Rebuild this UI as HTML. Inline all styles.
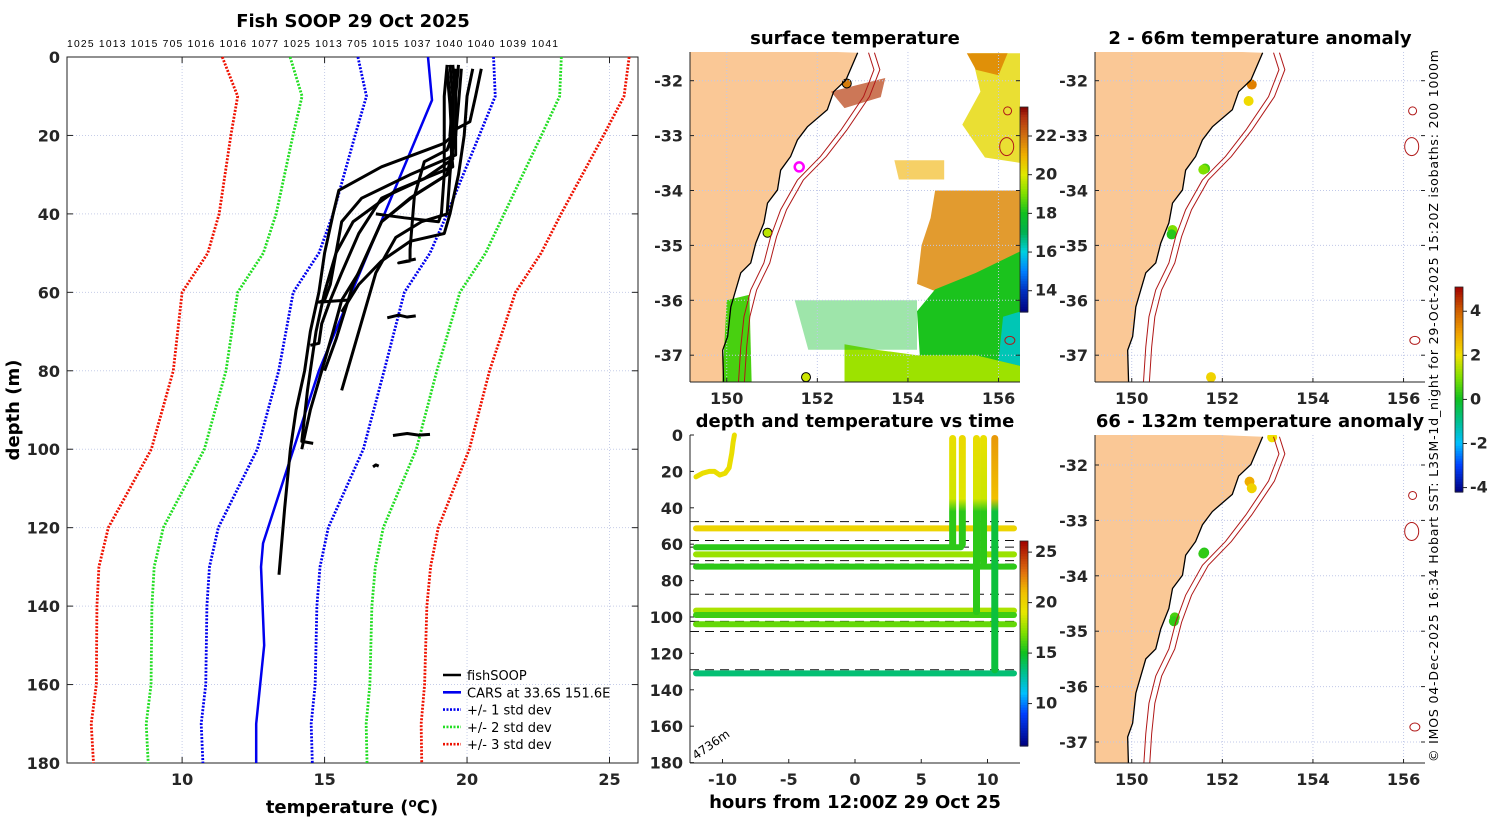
<!DOCTYPE html>
<html><head><meta charset="utf-8"><style>
html,body{margin:0;padding:0;background:#fff;}
svg{display:block;font-family:"DejaVu Sans","Liberation Sans",sans-serif;}
.tk{font-size:16px;font-weight:bold;fill:#262626;}
.ttl{font-size:18px;font-weight:bold;fill:#000;}
</style></head><body>
<svg id="fig" width="1500" height="820" viewBox="0 0 1500 820" xmlns="http://www.w3.org/2000/svg"></svg>
<script>
// ===== Profile panel data =====
const climDepths=[0,10,20,40,50,60,80,100,120,130,140,160,170,180];
const climMean=[18.55,18.73,18.25,17.3,16.75,15.85,15.24,14.5,13.2,12.9,12.8,12.75,12.6,12.65];
const climStd=[2.38,2.26,2.18,2.0,1.95,1.95,1.85,1.86,1.93,1.94,1.93,1.92,1.93,1.92];
const carsDepths=[0,11,80,124,130,150,170,180];
const carsTemps=[18.63,18.77,14.8,12.84,12.77,12.88,12.6,12.6];
const profTemps=[
 [20.5,20.3,20.1,19.55,19.3,18.5,18.15,18.0,18.0,17.6,18.2],
 [19.3,19.4,19.5,19.2,17.0,15.5,15.3,15.0,14.8,14.5,14.3,14.0,13.8,13.6,13.4],
 [19.5,19.6,19.6,18.0,16.3,15.6,15.4,15.0,14.7,14.4,14.2,14.6],
 [19.6,19.5,19.4,19.5,17.5,16.0,15.4,15.2,15.0,14.8,15.8],
 [19.3,19.4,19.5,18.5,17.0,16.2,15.6,15.2,14.9,14.8,14.5],
 [19.7,19.6,19.6,19.3,18.2,17.0,16.5,16.0,15.7,15.4,15.0],
 [19.4,19.5,19.5,19.4,19.3,18.4,17.5,16.8,16.4,16.0,15.6],
 [19.8,19.7,19.6,19.3,18.0,17.0,16.2,15.6,15.3,14.9,14.5,14.2],
 [19.3,19.2,19.2,19.2,19.1,19.0,17.8,16.8],
 [20.2,20.0,19.9,19.7,19.4,19.2,18.0,17.0,16.2,15.6],
 [17.2,17.6,17.9,18.2],
 [17.4,17.9,18.3,18.7],
 [16.7,16.8,16.9]
];
const profDepths=[
 [3,10,16.5,18.6,23.7,26.7,35.6,49,52,52.5,51.5],
 [3,10,20,22,28,34,40,50,60,70,80,90,100,115,132],
 [2,10,25,30,36,42,50,60,70,85,98,98.5],
 [3,10,20,28,34,42,50,58,62,62.5,62],
 [4,12,26,31,36,45,55,62,68,73,73.5],
 [2,10,20,30,35,42,50,58,65,72,80],
 [2,10,22,30,40,42,46,55,65,75,85],
 [3,12,20,30,36,42,55,62,70,80,90,100],
 [2,10,20,30,40,42,41,40],
 [3,10,20,30,40,45,47,52,58,65],
 [66.5,65.8,66.3,66],
 [96.5,96,96.4,96.2],
 [104.5,104,104.3]
];
const topLabels=["1025","1013","1015","705","1016","1016","1077","1025","1013","705","1015","1037","1040","1040","1039","1041"];
const tempTicks=[10,15,20,25];
const depthTicks=[0,20,40,60,80,100,120,140,160,180];

// ===== Time panel data =====
const barDepths=[51.3,61.7,65.6,72.3,96.5,98.9,104,131];
const barTemps=[20.0,15.5,17.5,15.5,17.8,15.8,16.5,13.5];
const barStart=[-12,-12,-12,-12,-12,-12,-12,-12];
const barEnd=[12,8,12,12,12,12,12,12];
const dropHours=[7.37,8.1,9.17,9.7,10.55];
const dropBottom=[62,62,99,72,131];
const dropSurfT=[19.5,19.8,19.6,19.4,22.0];
const dropDeepT=[15.5,15.5,15.5,15.5,14.5];
const dashDepths=[47.6,58,61.6,69,70.9,87.5,102.4,108,129];
const earlyHours=[-12,-11.5,-11,-10.6,-10.2,-9.8,-9.5,-9.3,-9.2,-9.1];
const earlyDepths=[23,21,20,20,22,21,18,10,4,0];
const hourTicks=[-10,-5,0,5,10];

// ===== Map data =====
const coastLon=[152.89,152.63,152.36,152.22,151.78,151.56,151.41,151.19,151.12,150.90,150.82,150.64,150.53,150.31,150.20,150.09,150.02,149.91,149.93];
const coastLat=[-31.49,-31.99,-32.20,-32.53,-32.84,-33.08,-33.38,-33.63,-33.99,-34.23,-34.59,-34.96,-35.32,-35.50,-35.81,-36.12,-36.66,-36.91,-37.48];
const isoLon=[153.13,153.25,153.02,152.52,152.07,151.56,151.19,150.97,150.82,150.53,150.38,150.31,150.26];
const isoLat=[-31.49,-31.8,-32.29,-32.9,-33.38,-33.81,-34.35,-34.84,-35.32,-35.81,-36.3,-36.85,-37.48];
const sstDotLon=[152.65,150.9,151.75];
const sstDotLat=[-32.05,-34.77,-37.4];
const sstDotT=[21.8,19.6,19.8];
const anomShallowLon=[152.65,152.58,151.62,151.58,150.9,150.88,151.75];
const anomShallowLat=[-32.07,-32.37,-33.6,-33.62,-34.72,-34.8,-37.4];
const anomShallowV=[3.5,2.1,0.5,1.0,1.0,0.2,2.2];
const anomDeepLon=[153.1,152.6,152.65,151.6,151.58,150.95,150.93];
const anomDeepLat=[-31.5,-32.3,-32.42,-33.58,-33.6,-34.75,-34.82];
const anomDeepV=[2.0,2.8,2.2,0.2,0.3,0.5,0.3];
const lonTicks=[150,152,154,156];
const latTicks=[-32,-33,-34,-35,-36,-37];

// ===== helpers =====
const NS="http://www.w3.org/2000/svg";
const svg=document.getElementById('fig');
function mk(tag,attrs,parent){const e=document.createElementNS(NS,tag);for(const k in attrs)e.setAttribute(k,attrs[k]);(parent||svg).appendChild(e);return e;}
function txt(x,y,s,attrs,parent){const e=mk('text',Object.assign({x:x,y:y},attrs||{}),parent);e.textContent=s;return e;}
function hex(c){return [parseInt(c.substr(1,2),16),parseInt(c.substr(3,2),16),parseInt(c.substr(5,2),16)];}
function cmap(stops){return function(v){if(v<=stops[0][0])return stops[0][1];if(v>=stops[stops.length-1][0])return stops[stops.length-1][1];
 for(let i=0;i<stops.length-1;i++){const a=stops[i],b=stops[i+1];if(v>=a[0]&&v<=b[0]){const t=(v-a[0])/(b[0]-a[0]);const A=hex(a[1]),B=hex(b[1]);
 return 'rgb('+A.map((q,j)=>Math.round(q+(B[j]-q)*t)).join(',')+')';}}};}
const sstC=cmap([[12.9,'#00007f'],[14,'#0030c0'],[15,'#0080ff'],[16,'#00d0e0'],[17,'#00b050'],[18,'#10c020'],[19,'#80e000'],[20,'#e0e800'],[21,'#f0b000'],[22,'#d07010'],[23,'#b03010'],[23.5,'#800000']]);
const tC=cmap([[5.8,'#00007f'],[9,'#0040ff'],[11,'#00c0ff'],[13,'#00c090'],[15,'#10c020'],[17,'#80e000'],[19,'#e8e800'],[21,'#f0c000'],[23,'#e07010'],[26.1,'#a00000']]);
const aC=cmap([[-4.2,'#00007f'],[-3,'#0040ff'],[-2,'#00c0ff'],[-1,'#00c090'],[0,'#10c020'],[1,'#80e000'],[2,'#f0e000'],[3,'#f0a000'],[4,'#d06000'],[5.1,'#a00000']]);
function colorbar(x,y,w,h,vmin,vmax,cm,ticks,name){
 const g=mk('g',{});
 const n=80;for(let i=0;i<n;i++){const v=vmax-(i+0.5)*(vmax-vmin)/n;mk('rect',{x:x,y:y+i*h/n,width:w,height:h/n+0.6,fill:cm(v)},g);}
 mk('rect',{x:x,y:y,width:w,height:h,fill:'none',stroke:'#222','stroke-width':0.8},g);
 ticks.forEach(t=>{const yy=y+(vmax-t)/(vmax-vmin)*h;mk('line',{x1:x+w,x2:x+w+4,y1:yy,y2:yy,stroke:'#222'},g);txt(x+w+7,yy+5,String(t),{class:'tk','font-size':'13'},g);});
}

// ===== Panel 1: profiles =====
(function(){
 const X0=67,X1=638,Y0=57,Y1=763,T0=5.96,T1=26.0,D1=180;
 const xs=t=>X0+(t-T0)/(T1-T0)*(X1-X0), ys=d=>Y0+d/D1*(Y1-Y0);
 const g=mk('g',{});
 tempTicks.forEach(t=>{const l=mk('line',{x1:xs(t),x2:xs(t),y1:Y0,y2:Y1,stroke:'#c6cde8','stroke-width':1,'stroke-dasharray':'1 2'},g);});
 depthTicks.forEach(d=>{mk('line',{x1:X0,x2:X1,y1:ys(d),y2:ys(d),stroke:'#c6cde8','stroke-width':1,'stroke-dasharray':'1 2'},g);});
 mk('rect',{x:X0,y:Y0,width:X1-X0,height:Y1-Y0,fill:'none',stroke:'#222','stroke-width':1},g);
 tempTicks.forEach(t=>{mk('line',{x1:xs(t),x2:xs(t),y1:Y1,y2:Y1-6,stroke:'#222'},g);mk('line',{x1:xs(t),x2:xs(t),y1:Y0,y2:Y0+6,stroke:'#222'},g);
  const e=txt(xs(t),Y1+22,String(t),{class:'tk','text-anchor':'middle'},g);});
 depthTicks.forEach(d=>{mk('line',{x1:X0,x2:X0+6,y1:ys(d),y2:ys(d),stroke:'#222'},g);mk('line',{x1:X1,x2:X1-6,y1:ys(d),y2:ys(d),stroke:'#222'},g);
  const e=txt(X0-7,ys(d)+6,String(d),{class:'tk','text-anchor':'end'},g);});
 const bandCol={1:'#0000ee',2:'#22dd22',3:'#ee1100'};
 [1,2,3].forEach(k=>{[-1,1].forEach(s=>{
  const pts=climDepths.map((d,i)=>xs(climMean[i]+s*k*climStd[i])+','+ys(d)).join(' ');
  const p=mk('polyline',{points:pts,fill:'none',stroke:bandCol[k],'stroke-width':2.8,'stroke-dasharray':'2 1.5'},g);
  });});
 const cars=mk('polyline',{points:carsDepths.map((d,i)=>xs(carsTemps[i])+','+ys(d)).join(' '),fill:'none',stroke:'#0000ee','stroke-width':2.5},g);
 
 profTemps.forEach((T,j)=>{const p=mk('polyline',{points:T.map((t,i)=>xs(t)+','+ys(profDepths[j][i])).join(' '),fill:'none',stroke:'#000','stroke-width':3,'stroke-linejoin':'round'},g);
  });
 const tg=mk('g',{});
 const tl=txt(X0,47,topLabels.join(' '),{'font-size':'10.3',fill:'#000','font-family':'"Liberation Sans",sans-serif'},tg);tl.setAttribute('textLength','491');
 const t1=txt(353,27,'Fish SOOP 29 Oct 2025',{class:'ttl','text-anchor':'middle'});
 const yl=txt(0,0,'depth (m)',{class:'ttl','text-anchor':'middle',transform:'translate(19,410) rotate(-90)','font-size':'17'});
 const xl=mk('text',{x:352,y:813,class:'ttl','text-anchor':'middle','font-size':'17'});
 xl.innerHTML='temperature (<tspan dy="-6" font-size="12">o</tspan><tspan dy="6">C)</tspan>';
 const lg=mk('g',{});
 const items=[['fishSOOP','#000',''],['CARS at 33.6S 151.6E','#0000ee',''],['+/- 1 std dev','#0000ee','2 1.5'],['+/- 2 std dev','#22dd22','2 1.5'],['+/- 3 std dev','#ee1100','2 1.5']];
 items.forEach((it,i)=>{const y=675+i*17.3;const e=mk('g',{},lg);
  mk('line',{x1:443,x2:461,y1:y,y2:y,stroke:it[1],'stroke-width':2.6,'stroke-dasharray':it[2]},e);txt(467,y+5,it[0],{'font-size':'13',fill:'#000'},e);});
})();

// ===== Map helper =====
function drawMap(name,title,X0,X1,Y0,Y1,latRef,ly,content){
 const lonMin=149.2,lonPx=45.3;const latPx=ly;
 const xs=lo=>X0+(lo-lonMin)*lonPx+0.5, ys=la=>latRef.y+(latRef.lat-la)*latPx;
 const g=mk('g',{});
 const cid='clip'+name;const cp=mk('clipPath',{id:cid},g);mk('rect',{x:X0,y:Y0,width:X1-X0,height:Y1-Y0},cp);
 const inner=mk('g',{'clip-path':'url(#'+cid+')'},g);
 const land=[X0+','+(Y0-5)].concat(coastLon.map((lo,i)=>xs(lo)+','+ys(coastLat[i]))).concat([xs(coastLon[coastLon.length-1])+','+(Y1+5),X0+','+(Y1+5)]);
 const lp=mk('polygon',{points:land.join(' '),fill:'#fac896'},inner);
 content(inner,xs,ys);
 lonTicks.forEach(lo=>mk('line',{x1:xs(lo),x2:xs(lo),y1:Y0,y2:Y1,stroke:'#c0c8e8','stroke-dasharray':'1 2'},inner));
 latTicks.forEach(la=>mk('line',{x1:X0,x2:X1,y1:ys(la),y2:ys(la),stroke:'#c0c8e8','stroke-dasharray':'1 2'},inner));
 mk('polyline',{points:coastLon.map((lo,i)=>xs(lo)+','+ys(coastLat[i])).join(' '),fill:'none',stroke:'#000','stroke-width':1.3},inner);
 [0,0.13].forEach(off=>{const p=mk('polyline',{points:isoLon.map((lo,i)=>xs(lo+off)+','+ys(isoLat[i])).join(' '),fill:'none',stroke:'#b01818','stroke-width':1},inner);});
 [[156.2,-32.55,4,4],[156.18,-33.2,7,9],[156.25,-36.73,5,4]].forEach(s=>mk('ellipse',{cx:xs(s[0]),cy:ys(s[1]),rx:s[2],ry:s[3],fill:'none',stroke:'#b01818','stroke-width':1},inner));
 mk('line',{x1:X0,x2:X1,y1:Y1,y2:Y1,stroke:'#222'},g);mk('line',{x1:X0,x2:X0,y1:Y0,y2:Y1,stroke:'#222'},g);
 lonTicks.forEach(lo=>{mk('line',{x1:xs(lo),x2:xs(lo),y1:Y1,y2:Y1-4,stroke:'#222'},g);const e=txt(xs(lo),Y1+22,String(lo),{class:'tk','text-anchor':'middle'},g);});
 latTicks.forEach(la=>{if(ys(la)<Y0||ys(la)>Y1)return;mk('line',{x1:X0,x2:X0+4,y1:ys(la),y2:ys(la),stroke:'#222'},g);mk('line',{x1:X1,x2:X1-4,y1:ys(la),y2:ys(la),stroke:'#222'},g);
  const e=txt(X0-7,ys(la)+6,String(la),{class:'tk','text-anchor':'end'},g);});
 const t=txt((X0+X1)/2,Y0-8,title,{class:'ttl','text-anchor':'middle'},g);
}
function poly(parent,xs,ys,pts,fill,nm){const p=mk('polygon',{points:pts.map(q=>xs(q[0])+','+ys(q[1])).join(' '),fill:fill},parent);return p;}

drawMap('sst-map','surface temperature',690,1020,52,382,{lat:-32,y:80.7},54.9,function(g,xs,ys){
 poly(g,xs,ys,[[155.4,-31.5],[156.5,-31.5],[156.5,-33.5],[155.7,-33.4],[155.2,-32.8],[155.6,-32.2]],sstC(20.3),'sst-ne-warm').setAttribute('opacity','0.8');
 poly(g,xs,ys,[[155.3,-31.5],[156.2,-31.5],[156.0,-31.9],[155.5,-31.8]],sstC(21.5),'sst-ne-orange');
 poly(g,xs,ys,[[154.6,-34.0],[156.5,-34.0],[156.5,-35.4],[155.8,-35.6],[154.8,-35.9],[154.2,-35.7],[154.3,-35.0],[154.5,-34.5]],sstC(21.6),'sst-orange-blob').setAttribute('opacity','0.85');
 poly(g,xs,ys,[[153.7,-33.45],[154.8,-33.45],[154.8,-33.8],[153.8,-33.8]],sstC(21.0),'sst-orange-patch').setAttribute('opacity','0.6');
 poly(g,xs,ys,[[152.3,-32.2],[153.5,-31.95],[153.4,-32.3],[152.6,-32.5]],sstC(22.8),'sst-red-patch').setAttribute('opacity','0.7');
 poly(g,xs,ys,[[156.5,-35.1],[156.5,-37.5],[154.3,-37.5],[154.2,-36.2],[154.6,-35.8],[155.5,-35.5]],sstC(18.1),'sst-green-region');
 poly(g,xs,ys,[[156.1,-36.3],[156.5,-36.2],[156.5,-37.2],[156.0,-37.1]],sstC(16.3),'sst-cyan-patch');
 poly(g,xs,ys,[[152.6,-36.8],[153.3,-36.9],[154.2,-37.0],[155.5,-37.0],[156.5,-37.2],[156.5,-37.5],[152.6,-37.5]],sstC(19.3),'sst-south-band');
 poly(g,xs,ys,[[151.5,-36.0],[154.2,-36.0],[154.2,-36.9],[151.8,-36.9]],sstC(17.8),'sst-scattered-green').setAttribute('opacity','0.4');
 poly(g,xs,ys,[[150.0,-36.0],[150.5,-35.9],[150.55,-37.5],[149.9,-37.5]],sstC(18.5),'sst-coastal-strip');
 sstDotLon.forEach((lo,i)=>{const c=mk('circle',{cx:xs(lo),cy:ys(sstDotLat[i]),r:4.5,fill:sstC(sstDotT[i]),stroke:'#000'},g);});
 const m=mk('circle',{cx:xs(151.6),cy:ys(-33.57),r:4.5,fill:'none',stroke:'#ff00ff','stroke-width':2.5},g);
});
colorbar(1020,107,8,205,12.9,23.5,sstC,[22,20,18,16,14],'sst-colorbar');

drawMap('shallow-anomaly-map','2 - 66m temperature anomaly',1095,1425,52,382,{lat:-32,y:80.7},54.9,function(g,xs,ys){
 anomShallowLon.forEach((lo,i)=>{const c=mk('circle',{cx:xs(lo),cy:ys(anomShallowLat[i]),r:5,fill:aC(anomShallowV[i])},g);});
});
drawMap('deep-anomaly-map','66 - 132m temperature anomaly',1095,1425,435,763,{lat:-32,y:465},55.4,function(g,xs,ys){
 anomDeepLon.forEach((lo,i)=>{const c=mk('circle',{cx:xs(lo),cy:ys(anomDeepLat[i]),r:5,fill:aC(anomDeepV[i])},g);});
});
colorbar(1455,287,8,205,-4.2,5.1,aC,[4,2,0,-2,-4],'anomaly-colorbar');

(function(){
 const X0=690,X1=1020,Y0=435,Y1=763;
 const xs=h=>855+h*13.25, ys=d=>Y0+d*1.82;
 const g=mk('g',{});
 dashDepths.forEach(d=>{const l=mk('line',{x1:X0,x2:X1,y1:ys(d),y2:ys(d),stroke:'#111','stroke-width':1,'stroke-dasharray':'9 6'},g);});
 barDepths.forEach((d,i)=>{const l=mk('line',{x1:xs(barStart[i]),x2:xs(barEnd[i]),y1:ys(d),y2:ys(d),stroke:tC(barTemps[i]),'stroke-width':6,'stroke-linecap':'round'},g);});
 dropHours.forEach((h,i)=>{const id='gd'+i;const lg=mk('linearGradient',{id:id,x1:0,y1:0,x2:0,y2:1},g);
  mk('stop',{offset:'0',"stop-color":tC(dropSurfT[i])},lg);mk('stop',{offset:String(Math.min(0.9,35/dropBottom[i])),"stop-color":tC(dropSurfT[i]-1)},lg);mk('stop',{offset:String(Math.min(0.95,42/dropBottom[i])),"stop-color":tC(dropDeepT[i])},lg);mk('stop',{offset:'1',"stop-color":tC(dropDeepT[i])},lg);
  const r=mk('rect',{x:xs(h)-3.5,y:ys(0),width:7,height:ys(dropBottom[i])-ys(0),rx:3.5,fill:'url(#'+id+')'},g);});
 const e=mk('polyline',{points:earlyHours.map((h,i)=>xs(h)+','+ys(earlyDepths[i])).join(' '),fill:'none',stroke:tC(19.5),'stroke-width':5,'stroke-linecap':'round','stroke-linejoin':'round'},g);
 mk('line',{x1:X0,x2:X1,y1:Y1,y2:Y1,stroke:'#222'},g);mk('line',{x1:X0,x2:X0,y1:Y0,y2:Y1,stroke:'#222'},g);
 hourTicks.forEach(h=>{mk('line',{x1:xs(h),x2:xs(h),y1:Y1,y2:Y1-4,stroke:'#222'},g);const t=txt(xs(h),Y1+22,String(h),{class:'tk','text-anchor':'middle'},g);});
 depthTicks.forEach(d=>{mk('line',{x1:X0,x2:X0+4,y1:ys(d),y2:ys(d),stroke:'#222'},g);const t=txt(X0-7,ys(d)+6,String(d),{class:'tk','text-anchor':'end'},g);});
 const tt=txt(855,427,'depth and temperature vs time',{class:'ttl','text-anchor':'middle'},g);
 const xl=txt(855,808,'hours from 12:00Z 29 Oct 25',{class:'ttl','text-anchor':'middle','font-size':'17'},g);
 const bt=txt(0,0,'4736m',{'font-size':'12',fill:'#000',transform:'translate(696,760) rotate(-35)'},g);
})();
colorbar(1020,541,8,205,5.8,26.1,tC,[25,20,15,10],'time-colorbar');

const cr=txt(0,0,'© IMOS 04-Dec-2025 16:34 Hobart SST: L3SM-1d_night for 29-Oct-2025 15:20Z isobaths: 200  1000m',{'font-size':'12.5',fill:'#000','text-anchor':'middle',transform:'translate(1438,406) rotate(-90)','font-family':'"DejaVu Sans",sans-serif'});
cr.setAttribute('textLength','712');
</script>
</body></html>
